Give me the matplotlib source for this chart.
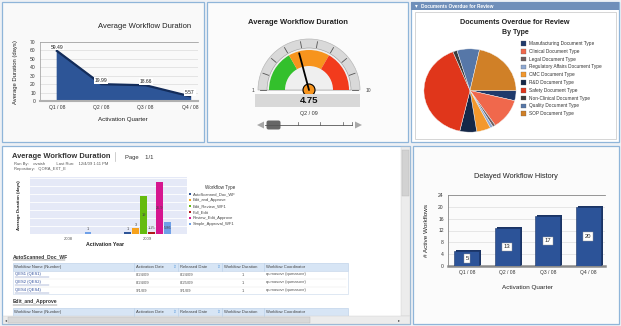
import matplotlib
matplotlib.use('Agg')
import matplotlib.pyplot as plt
from matplotlib.patches import Rectangle, Wedge, Circle, Polygon, FancyBboxPatch
import numpy as np

W, H = 621, 326
plt.rcParams['font.family'] = ['Liberation Sans', 'DejaVu Sans']

# ---------------- data ----------------
tl_quarters = ['Q1 / 08', 'Q2 / 08', 'Q3 / 08', 'Q4 / 08']
tl_durations = [59.49, 19.99, 18.66, 5.57]

gauge_value = 4.75
gauge_min, gauge_max = 1, 10
gauge_band_edges = [1, 4, 7, 10]
gauge_period = 'Q2 / 09'

pie_types = ['Manufacturing Document Type', 'Clinical Document Type', 'Legal Document Type',
             'Regulatory Affairs Document Type', 'CMC Document Type', 'R&D Document Type',
             'Safety Document Type', 'Non-Clinical Document Type', 'Quality Document Type',
             'SOP Document Type']
pie_counts = [4, 12, 1, 1, 5, 6, 41, 1.5, 8, 22]

bl_years = ['2008', '2009']
bl_series = ['AutoScanned_Doc_WF', 'Edit_and_Approve', 'Edit_Review_WF1', 'Full_Edit',
             'Review_Edit_Approve', 'Simple_Approval_WF1']
bl_2008 = [np.nan, np.nan, np.nan, np.nan, np.nan, 1]
bl_2009 = [1, 3, 19, 1.25, 25.9, 5.86]
bl_labels_2008 = ['', '', '', '', '', '1']
bl_labels_2009 = ['1', '3', '19', '1.25', '25.9', '5.86']

table_cols = ['Workflow Name (Number)', 'Activation Date', 'Released Date',
              'Workflow Duration', 'Workflow Coordinator']
table_names = ['QES1 (QES1)', 'QES2 (QES2)', 'QES4 (QES4)']
table_act = ['8/24/09', '8/24/09', '9/1/09']
table_rel = ['8/24/09', '8/25/09', '9/1/09']
table_dur = ['1', '1', '1']
table_coord = ['qumasovr (qumasovr)', 'qumasovr (qumasovr)', 'qumasovr (qumasovr)']

br_quarters = ['Q1 / 08', 'Q2 / 08', 'Q3 / 08', 'Q4 / 08']
br_counts = [5, 13, 17, 20]

# ---------------- helpers ----------------
fig = plt.figure(figsize=(W / 100, H / 100), dpi=100)
fig.patch.set_facecolor('#eef1f5')
bg = fig.add_axes([0, 0, 1, 1], zorder=0)
bg.set_xlim(0, W)
bg.set_ylim(0, H)
bg.axis('off')


def Y(y):
    return H - y


def rect(x0, y0, x1, y1, **kw):
    bg.add_patch(Rectangle((x0, Y(y1)), x1 - x0, y1 - y0, **kw))


def txt(x, y, s, **kw):
    kw.setdefault('va', 'center')
    kw.setdefault('color', '#222222')
    bg.text(x, Y(y), s, **kw)


def line(x0, y0, x1, y1, **kw):
    bg.plot([x0, x1], [Y(y0), Y(y1)], **kw)


def ax_at(x0, y0, x1, y1, **kw):
    return fig.add_axes([x0 / W, 1 - y1 / H, (x1 - x0) / W, (y1 - y0) / H], **kw)


border = '#8fb5d9'
# panels
rect(2, 2, 204, 142, fc='#f9f9f9', ec=border, lw=0.9)
rect(207, 2, 408, 142, fc='#fbfbfb', ec=border, lw=0.9)
rect(411, 2, 619, 142, fc='#ffffff', ec=border, lw=0.9)
rect(2, 146, 410, 324, fc='#ffffff', ec=border, lw=0.9)
rect(413, 146, 619, 324, fc='#fbfbfb', ec=border, lw=0.9)

# ---------------- top-left: area chart ----------------
txt(145, 27, 'Average Workflow Duration', fontsize=5.5, ha='center')
txt(16, 72, 'Average Duration (days)', fontsize=4.2, ha='center', rotation=90)
txt(123, 119, 'Activation Quarter', fontsize=4.5, ha='center')
ax1 = ax_at(40, 42, 198, 101)
ax1.set_facecolor('none')
x1 = np.arange(len(tl_quarters))
ax1.fill_between(x1, tl_durations, color='#2d5597', zorder=2)
ax1.plot(x1, tl_durations, color='#132c5a', lw=1.6, zorder=3)
for xi, v in zip(x1, tl_durations):
    ax1.text(xi, v + 4.5, f'{v:.2f}', fontsize=3.6, ha='center', va='center', color='#222',
             bbox=dict(fc='white', ec='none', pad=0.6), zorder=4)
ax1.set_xlim(-0.38, 3.18)
ax1.set_ylim(0, 70)
ax1.set_yticks(range(0, 71, 10))
ax1.set_xticks(x1)
ax1.set_xticklabels(tl_quarters)
ax1.tick_params(labelsize=3.6, length=0, pad=3, colors='#333')
ax1.grid(axis='y', color='#d4d4d4', lw=0.4)
ax1.set_axisbelow(True)
for s in ['left', 'top']:
    ax1.spines[s].set_color('#999')
    ax1.spines[s].set_linewidth(0.5)
ax1.spines['right'].set_visible(False)
ax1.spines['bottom'].set_color('#b0b0b0')
ax1.spines['bottom'].set_linewidth(1.5)

# ---------------- top-middle: gauge ----------------
txt(298, 22, 'Average Workflow Duration', fontsize=5.5, ha='center', fontweight='bold')
c = (309, Y(90))


def ang(v):
    return 180 - (v - gauge_min) / (gauge_max - gauge_min) * 180


bg.add_patch(Wedge(c, 51, 0, 180, fc='#d9d9d9', ec='#b8b8b8', lw=0.5))
bg.add_patch(Wedge(c, 42, 0, 180, fc='#efefef', ec='#9a9a9a', lw=0.4))
band_colors = ['#33c02c', '#f7941d', '#f23b1c']
for a, b, col in zip(gauge_band_edges[:-1], gauge_band_edges[1:], band_colors):
    bg.add_patch(Wedge(c, 40, ang(b), ang(a), width=16, fc=col, ec='none'))
for v in range(gauge_min, gauge_max + 1):
    t = np.deg2rad(ang(v))
    bg.plot([c[0] + 43 * np.cos(t), c[0] + 49 * np.cos(t)],
            [c[1] + 43 * np.sin(t), c[1] + 49 * np.sin(t)], color='#555', lw=0.6)
t = np.deg2rad(ang(gauge_value))
bg.plot([c[0], c[0] + 38 * np.cos(t)], [c[1], c[1] + 38 * np.sin(t)], color='black', lw=1.3,
        solid_capstyle='round')
bg.add_patch(Circle(c, 6, fc='#f7941d', ec='black', lw=0.8))
rect(255, 94, 360, 107, fc='#d8d8d8', ec='none')
txt(309, 100.5, f'{gauge_value:.2f}', fontsize=6.8, ha='center', fontweight='bold', color='#111')
txt(253, 90, str(gauge_min), fontsize=3.6, ha='center', color='#444')
txt(368, 90, str(gauge_max), fontsize=3.6, ha='center', color='#444')
txt(309, 113, gauge_period, fontsize=3.9, ha='center', color='#333')
line(265, 125, 352, 125, color='#555', lw=0.6)
for xt in [298, 320, 343, 352]:
    line(xt, 122, xt, 125, color='#555', lw=0.5)
bg.add_patch(FancyBboxPatch((267, Y(129)), 13, 8, boxstyle='round,pad=0.5,rounding_size=2',
                            fc='#666666', ec='none'))
bg.add_patch(Polygon([(257, Y(125)), (264, Y(121.5)), (264, Y(128.5))], fc='#a8a8a8', ec='none'))
bg.add_patch(Polygon([(362, Y(125)), (355, Y(121.5)), (355, Y(128.5))], fc='#a8a8a8', ec='none'))

# ---------------- top-right: pie ----------------
rect(411, 2, 619, 10, fc='#6f8fba', ec='none')
txt(416, 6, '▾', fontsize=4, color='white', ha='center')
txt(421, 6, 'Documents Overdue for Review', fontsize=3.4, color='white', fontweight='bold')
rect(415, 12, 616, 139, fc='white', ec='#cfcfcf', lw=0.6)
txt(515, 23, 'Documents Overdue for Review', fontsize=5.2, ha='center', fontweight='bold')
txt(515, 33, 'By Type', fontsize=5, ha='center', fontweight='bold')
pie_colors = ['#1f3a6b', '#f0684c', '#6e5f60', '#8fa9d3', '#f3982d', '#152848',
              '#e0361b', '#3d3d3d', '#5677a8', '#d08027']
axp = ax_at(423, 48, 517, 133)
axp.pie(pie_counts, colors=pie_colors, startangle=0, counterclock=False,
        wedgeprops=dict(edgecolor='#f4f4f4', linewidth=0.3))
axp.set_aspect('auto')
axp.set_xlim(-1.02, 1.02)
axp.set_ylim(-1.02, 1.02)
for i, (name, col) in enumerate(zip(pie_types, pie_colors)):
    yy = 43.5 + i * 7.8
    rect(521, yy - 2.3, 526, yy + 2.3, fc=col, ec='#555', lw=0.2)
    txt(529, yy, name, fontsize=3.4, color='#333')

# ---------------- bottom-left: report ----------------
txt(12, 157, 'Average Workflow Duration', fontsize=5.4, fontweight='bold', color='#333')
line(115, 152, 115, 161, color='#bbb', lw=0.5)
txt(125, 157, 'Page    1/1', fontsize=4.2, color='#333')
txt(14, 163.5, 'Run By:    ovaish          Last Run:    12/4/09 1:11 PM', fontsize=3, color='#555')
txt(14, 169, 'Repository:   QORA_EXT_E', fontsize=3, color='#555')
txt(19, 205, 'Average Duration (days)', fontsize=3.2, ha='center', rotation=90, fontweight='bold')
ax3 = ax_at(30, 177, 187, 234)
ax3.set_facecolor('#e5e9f7')
bar_cols = ['#2f5597', '#f7a21b', '#66bb10', '#b01a1a', '#d6168f', '#6fa0e8']
xb = np.arange(len(bl_years))
for i, (name, col) in enumerate(zip(bl_series, bar_cols)):
    off = (i - 2.5) * 0.1
    vals = [bl_2008[i], bl_2009[i]]
    labs = [bl_labels_2008[i], bl_labels_2009[i]]
    ax3.bar(xb + off, vals, width=0.085, color=col, zorder=3)
    for xx, v, lb in zip(xb + off, vals, labs):
        if lb and not np.isnan(v):
            if v > 5:
                ax3.text(xx, v / 2, lb, fontsize=2.8, ha='center', va='center', color='#444', zorder=4)
            else:
                ax3.text(xx, v + 1.6, lb, fontsize=2.8, ha='center', va='center', color='#444', zorder=4)
ax3.set_xlim(-0.475, 1.49)
ax3.set_ylim(0, 28.5)
ax3.set_yticks(range(0, 29, 4))
ax3.set_yticklabels([])
ax3.set_xticks(xb)
ax3.set_xticklabels(bl_years)
ax3.tick_params(labelsize=3, length=0, pad=2, colors='#555')
ax3.grid(axis='y', color='white', lw=0.6)
ax3.set_axisbelow(True)
for s in ax3.spines.values():
    s.set_visible(False)
txt(105, 245, 'Activation Year', fontsize=3.8, ha='center', fontweight='bold')
txt(220, 188, 'Workflow Type', fontsize=3.3, ha='center', color='#333')
for i, (name, col) in enumerate(zip(bl_series, bar_cols)):
    yy = 194 + i * 6
    rect(189, yy - 0.8, 190.6, yy + 0.8, fc=col, ec='none')
    txt(193, yy, name, fontsize=3, color='#444')

# table section
txt(13, 257, 'AutoScanned_Doc_WF', fontsize=3.6, fontweight='bold', color='#333')
line(13, 260, 65, 260, color='#333', lw=0.3)
col_x = [13, 134, 178, 222, 264, 348]
rect(13, 263, 348, 270.5, fc='#d7e5f5', ec='#b6cde6', lw=0.4)
for cx in col_x[1:-1]:
    line(cx, 263, cx, 270.5, color='#b6cde6', lw=0.4)
for j, name in enumerate(table_cols):
    txt(col_x[j] + 1.5, 266.8, name, fontsize=3, color='#444')
    if j in (1, 2):
        txt(col_x[j] + 38, 266.8, '⇧', fontsize=3.2, color='#4a90d9')
rect(13, 270.5, 348, 293.5, fc='white', ec='#c6d6ea', lw=0.4)
for r in range(3):
    yy = 274.5 + r * 8
    txt(15, yy, table_names[r], fontsize=3, color='#2b4b9a')
    line(15, yy + 2, 15 + 34, yy + 2, color='#2b4b9a', lw=0.25)
    txt(136, yy, table_act[r], fontsize=3, color='#555')
    txt(180, yy, table_rel[r], fontsize=3, color='#555')
    txt(243, yy, table_dur[r], fontsize=3, color='#555', ha='center')
    txt(266, yy, table_coord[r], fontsize=3, color='#555')
    if r < 2:
        line(15, yy + 4, 346, yy + 4, color='#e3e3e3', lw=0.3)
txt(13, 302, 'Edit_and_Approve', fontsize=3.6, fontweight='bold', color='#333')
line(13, 305, 57, 305, color='#333', lw=0.3)
rect(13, 308, 348, 316, fc='#d7e5f5', ec='#b6cde6', lw=0.4)
for cx in col_x[1:-1]:
    line(cx, 308, cx, 316, color='#b6cde6', lw=0.4)
for j, name in enumerate(table_cols):
    txt(col_x[j] + 1.5, 312, name, fontsize=3, color='#444')
    if j in (1, 2):
        txt(col_x[j] + 38, 312, '⇧', fontsize=3.2, color='#4a90d9')
# scrollbars
rect(401, 147, 409.5, 316, fc='#ececec', ec='#cfcfcf', lw=0.3)
rect(401.8, 150, 408.7, 196, fc='#d2d2d2', ec='#b8b8b8', lw=0.3)
rect(3, 316, 409.5, 323.5, fc='#ececec', ec='#cfcfcf', lw=0.3)
rect(8, 317, 310, 322.5, fc='#d8d8d8', ec='#b8b8b8', lw=0.3)
txt(5, 320, '◂', fontsize=3, color='#444')
txt(398, 320, '▸', fontsize=3, color='#444')

# ---------------- bottom-right: bar chart ----------------
txt(516, 177, 'Delayed Workflow History', fontsize=5.3, ha='center')
txt(426, 230, '# Active Workflows', fontsize=4.6, ha='center', rotation=90)
txt(528, 288, 'Activation Quarter', fontsize=4.6, ha='center')
ax4 = ax_at(448, 195, 605, 266)
ax4.set_facecolor('none')
xq = np.arange(len(br_quarters))
ax4.bar(xq + 0.05, [v + 0.35 for v in br_counts], width=0.62, color='#1b3464', zorder=2)
ax4.bar(xq, br_counts, width=0.62, color='#2c5398', edgecolor='#1a3466', lw=0.4, zorder=3)
for xx, v in zip(xq, br_counts):
    ax4.text(xx, v / 2, str(v), fontsize=4.2, ha='center', va='center', color='#222', zorder=4,
             bbox=dict(fc='white', ec='#999', lw=0.3, pad=1.2))
ax4.set_xlim(-0.47, 3.42)
ax4.set_ylim(0, 24)
ax4.set_yticks(range(0, 25, 4))
ax4.set_xticks(xq)
ax4.set_xticklabels(br_quarters)
ax4.tick_params(labelsize=3.6, length=0, pad=3, colors='#333')
ax4.grid(axis='y', color='#d6d6d6', lw=0.4)
ax4.set_axisbelow(True)
for s in ['left', 'top']:
    ax4.spines[s].set_color('#888')
    ax4.spines[s].set_linewidth(0.6)
ax4.spines['right'].set_visible(False)
ax4.spines['bottom'].set_color('#8a8a8a')
ax4.spines['bottom'].set_linewidth(1.8)

fig.savefig('out.png', dpi=100, facecolor=fig.get_facecolor())
